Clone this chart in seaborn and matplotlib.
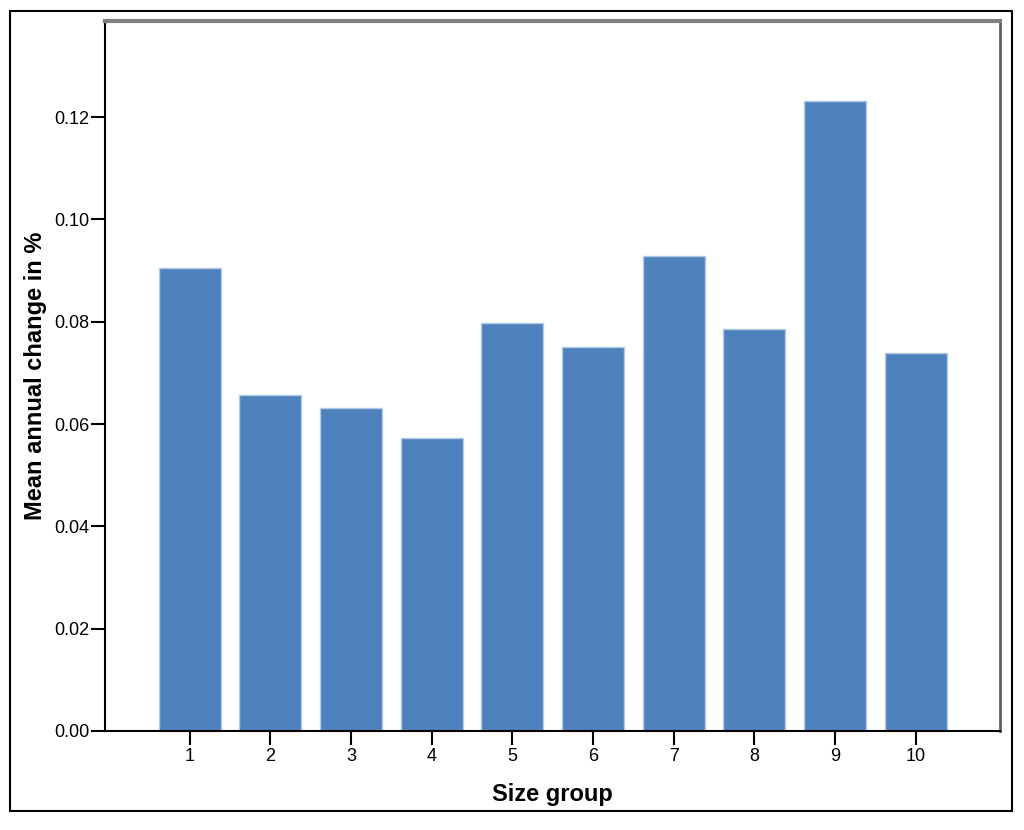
import pandas as pd
import seaborn as sns
import matplotlib.pyplot as plt
from matplotlib.patches import Rectangle

groups = ['1', '2', '3', '4', '5', '6', '7', '8', '9', '10']
mean_change = [0.0905, 0.0656, 0.0632, 0.0572, 0.0798, 0.0751, 0.0929, 0.0786, 0.1231, 0.0738]
y_ticks = [0.00, 0.02, 0.04, 0.06, 0.08, 0.10, 0.12]

df = pd.DataFrame({'size_group': groups, 'mean_change': mean_change})

sns.set_style('white')
plt.rcParams['font.family'] = ['Liberation Sans', 'DejaVu Sans']
plt.rcParams['text.color'] = 'black'
plt.rcParams['axes.labelcolor'] = 'black'
plt.rcParams['xtick.color'] = 'black'
plt.rcParams['ytick.color'] = 'black'

fig = plt.figure(figsize=(10.24, 8.3), dpi=100)
ax = fig.add_axes([0.1025, 0.1193, 0.8745, 0.8554])

sns.barplot(data=df, x='size_group', y='mean_change', color='#4F81BD',
            saturation=1, width=0.77, edgecolor='#B4CBE6', linewidth=1.0, ax=ax)

ax.set_xlim(-1.05, 10.05)
ax.set_ylim(0, 0.1388)
ax.set_yticks(y_ticks)
ax.set_yticklabels([f'{v:.2f}' for v in y_ticks])

ax.tick_params(axis='both', direction='out', length=10, width=1.5, color='black',
               labelsize=13, bottom=True, left=True)
ax.tick_params(axis='y', pad=1)
ax.tick_params(axis='x', pad=2)

for side in ['left', 'bottom']:
    ax.spines[side].set_color('black')
    ax.spines[side].set_linewidth(1.5)
ax.spines['top'].set_color('#808080')
ax.spines['top'].set_linewidth(3)
ax.spines['right'].set_color('#606060')
ax.spines['right'].set_linewidth(2)

ax.set_xlabel('Size group', fontsize=17, fontweight='bold', labelpad=13)
ax.set_ylabel('Mean annual change in %', fontsize=17, fontweight='bold', labelpad=5)

fig.patches.append(Rectangle((0.0098, 0.0229), 0.9785, 0.9639, transform=fig.transFigure,
                             fill=False, edgecolor='black', linewidth=1.5))

fig.savefig('out.png', dpi=100)
